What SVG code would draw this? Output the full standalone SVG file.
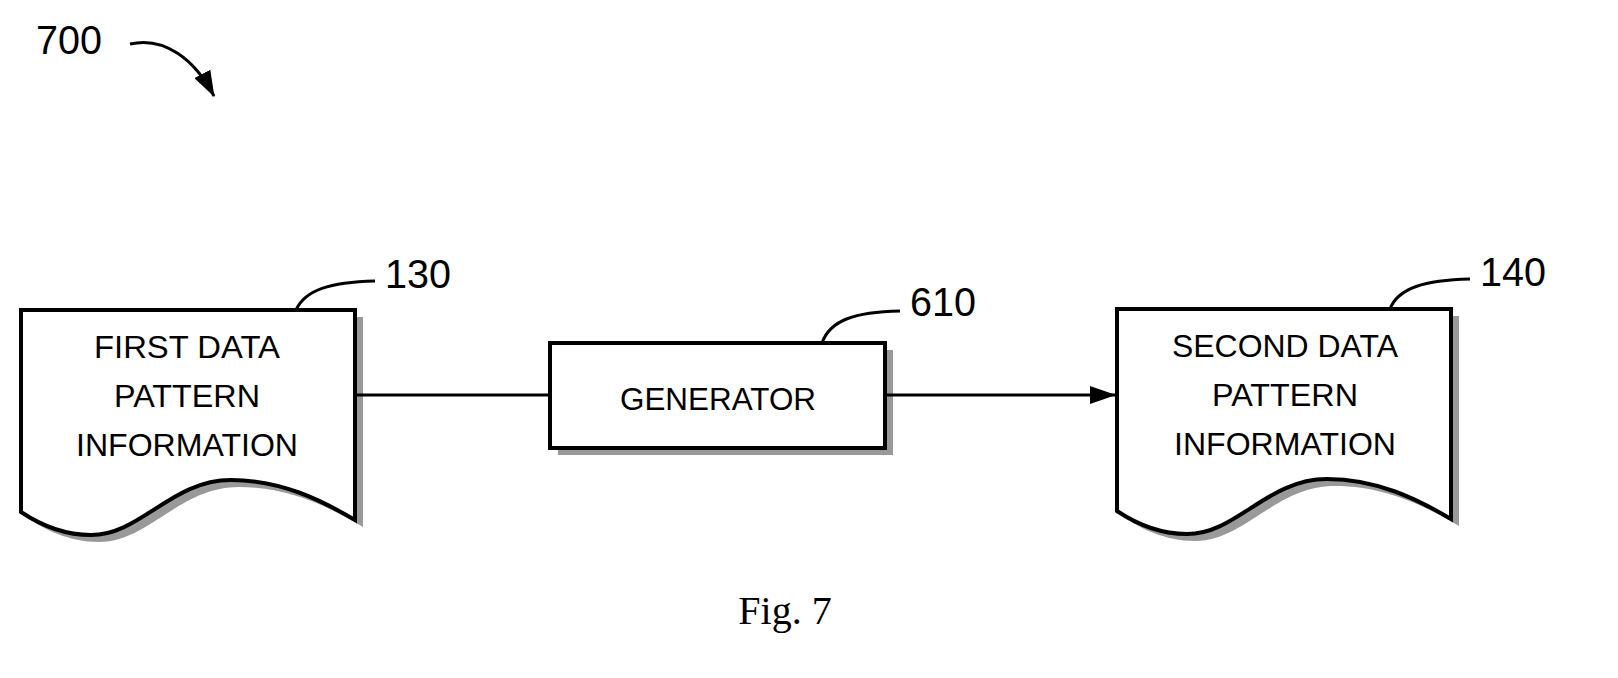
<svg xmlns="http://www.w3.org/2000/svg" width="1618" height="678" viewBox="0 0 1618 678">
<defs>
<marker id="ah" markerWidth="26" markerHeight="18" refX="25" refY="9" orient="auto" markerUnits="userSpaceOnUse" viewBox="0 0 26 18"><path d="M0,0 L26,9 L0,18 z" fill="#000"/></marker>
<path id="doc" d="M0,0 H334 V210 C300,190 260,170 210,170 C150,170 120,225 70,225 C40,225 15,212 0,202 Z"/>
</defs>
<style>
.t{font-family:"Liberation Sans",Arial,sans-serif;font-size:31px;text-anchor:middle}
.n{font-family:"Liberation Sans",Arial,sans-serif;font-size:40px}
.sh{fill:#999}
.sh2{fill:#fff;stroke:#000;stroke-width:4}
.ln{fill:none;stroke:#000;stroke-width:3}
</style>
<rect width="1618" height="678" fill="#fff"/>
<text class="n" x="36" y="54" textLength="66" lengthAdjust="spacingAndGlyphs">700</text>
<path class="ln" d="M130,44 C165,36 195,60 214,96" marker-end="url(#ah)"/>
<g id="n130">
<use href="#doc" x="29" y="317" class="sh"/>
<use href="#doc" x="21" y="310" class="sh2"/>
<path class="ln" d="M296,310 C305,290 330,282 375,281"/>
<text class="n" x="385" y="288" textLength="66" lengthAdjust="spacingAndGlyphs">130</text>
<text class="t" x="187" y="358" textLength="186" lengthAdjust="spacingAndGlyphs">FIRST DATA</text>
<text class="t" x="187" y="407" textLength="146" lengthAdjust="spacingAndGlyphs">PATTERN</text>
<text class="t" x="187" y="456" textLength="222" lengthAdjust="spacingAndGlyphs">INFORMATION</text>
</g>
<g id="n610">
<rect x="558" y="350" width="335" height="105" class="sh"/>
<rect x="550" y="343" width="335" height="105" class="sh2"/>
<path class="ln" d="M822,343 C830,320 855,312 900,311"/>
<text class="n" x="910" y="316" textLength="66" lengthAdjust="spacingAndGlyphs">610</text>
<text class="t" x="718" y="410" textLength="196" lengthAdjust="spacingAndGlyphs">GENERATOR</text>
</g>
<g id="n140">
<use href="#doc" x="1125" y="316" class="sh"/>
<use href="#doc" x="1117" y="309" class="sh2"/>
<path class="ln" d="M1390,309 C1398,288 1425,280 1470,279"/>
<text class="n" x="1480" y="286" textLength="66" lengthAdjust="spacingAndGlyphs">140</text>
<text class="t" x="1285" y="357" textLength="226" lengthAdjust="spacingAndGlyphs">SECOND DATA</text>
<text class="t" x="1285" y="406" textLength="146" lengthAdjust="spacingAndGlyphs">PATTERN</text>
<text class="t" x="1285" y="455" textLength="222" lengthAdjust="spacingAndGlyphs">INFORMATION</text>
</g>
<g id="connectors">
<path class="ln" d="M355,395 H550"/>
<path class="ln" d="M885,395 H1115" marker-end="url(#ah)"/>
</g>
<text x="785" y="624" style="font-family:'Liberation Serif',serif;font-size:40px;text-anchor:middle">Fig. 7</text>
</svg>
